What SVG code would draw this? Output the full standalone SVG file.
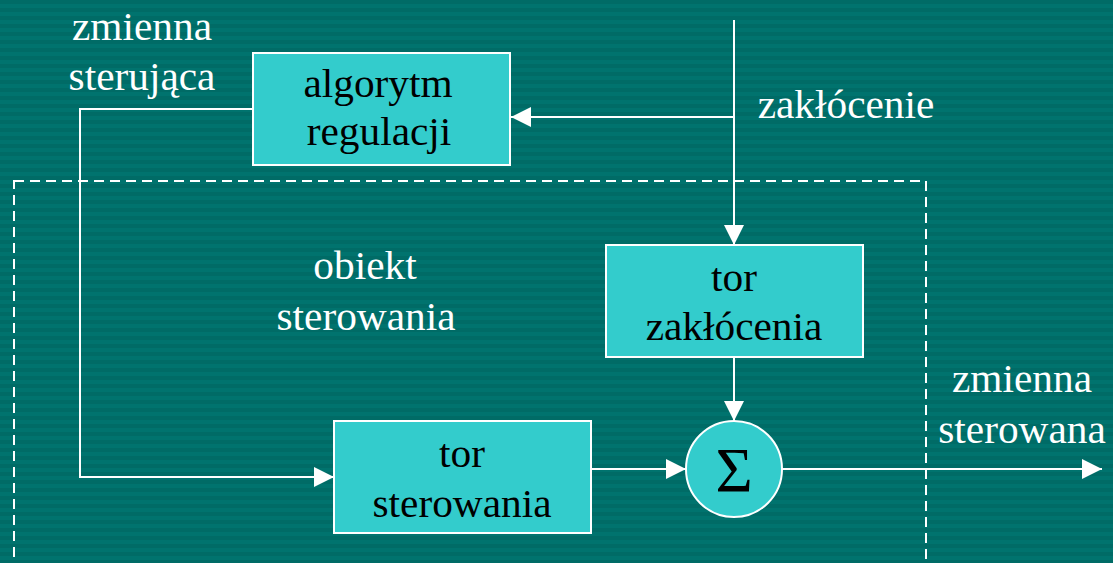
<svg xmlns="http://www.w3.org/2000/svg" width="1113" height="563" viewBox="0 0 1113 563">
  <style>
    .box { fill: #33CCCC; stroke: #FFFFFF; stroke-width: 2; }
    .wire { fill: none; stroke: #FFFFFF; stroke-width: 2; }
    .frame { fill: none; stroke: #FFFFFF; stroke-width: 2; stroke-dasharray: 10 6; }
    .lbl { font-family: "Liberation Serif", "Times New Roman", serif; font-size: 39px; text-anchor: middle; }
    .dark { fill: #000000; }
    .light { fill: #FFFFFF; }
  </style>
  <defs>
    <pattern id="stripes" width="8" height="8" patternUnits="userSpaceOnUse">
      <rect width="8" height="8" fill="#006B66"/>
      <rect y="4" width="8" height="4" fill="#00736E"/>
    </pattern>
    <marker id="arrow" markerUnits="userSpaceOnUse" markerWidth="22" markerHeight="22" refX="20" refY="10" orient="auto">
      <path d="M0,0 L20,10 L0,20 Z" fill="#FFFFFF"/>
    </marker>
  </defs>

  <rect width="1113" height="563" fill="url(#stripes)"/>

  <!-- plant boundary -->
  <rect class="frame" x="14" y="181" width="912" height="420"/>

  <g id="connectors">
    <!-- disturbance input down to disturbance path -->
    <path class="wire" d="M734,20 V245" marker-end="url(#arrow)"/>
    <!-- disturbance measurement to controller -->
    <path class="wire" d="M734,117 H511" marker-end="url(#arrow)"/>
    <!-- manipulated variable to control path -->
    <path class="wire" d="M253,109 H80 V477 H334" marker-end="url(#arrow)"/>
    <!-- disturbance path to summing junction -->
    <path class="wire" d="M734,357 V421" marker-end="url(#arrow)"/>
    <!-- control path to summing junction -->
    <path class="wire" d="M591,469 H686" marker-end="url(#arrow)"/>
    <!-- output -->
    <path class="wire" d="M782,469 H1102" marker-end="url(#arrow)"/>
  </g>

  <g id="algorytm-regulacji">
    <rect class="box" x="253" y="53" width="257" height="112"/>
    <text class="lbl dark" transform="translate(378,97) scale(1.06,1)">algorytm</text>
    <text class="lbl dark" transform="translate(379,145) scale(1.06,1)">regulacji</text>
  </g>

  <g id="tor-zaklocenia">
    <rect class="box" x="606" y="245" width="257" height="112"/>
    <text class="lbl dark" transform="translate(734,291) scale(1.06,1)">tor</text>
    <text class="lbl dark" transform="translate(734,340) scale(1.06,1)">zakłócenia</text>
  </g>

  <g id="tor-sterowania">
    <rect class="box" x="334" y="421" width="257" height="112"/>
    <text class="lbl dark" transform="translate(462,467) scale(1.06,1)">tor</text>
    <text class="lbl dark" transform="translate(462,517) scale(1.06,1)">sterowania</text>
  </g>

  <g id="sumator">
    <circle class="box" cx="734" cy="469" r="48"/>
    <text x="734" y="492" font-family="Liberation Serif, serif" font-size="64" text-anchor="middle" fill="#000000">Σ</text>
  </g>

  <g id="labels">
    <text class="lbl light" transform="translate(142,40) scale(1.06,1)">zmienna</text>
    <text class="lbl light" transform="translate(142,90) scale(1.06,1)">sterująca</text>
    <text class="lbl light" transform="translate(846,118) scale(1.06,1)">zakłócenie</text>
    <text class="lbl light" transform="translate(365,279) scale(1.06,1)">obiekt</text>
    <text class="lbl light" transform="translate(366,330) scale(1.06,1)">sterowania</text>
    <text class="lbl light" transform="translate(1022,392) scale(1.06,1)">zmienna</text>
    <text class="lbl light" transform="translate(1022,443) scale(1.06,1)">sterowana</text>
  </g>
</svg>
